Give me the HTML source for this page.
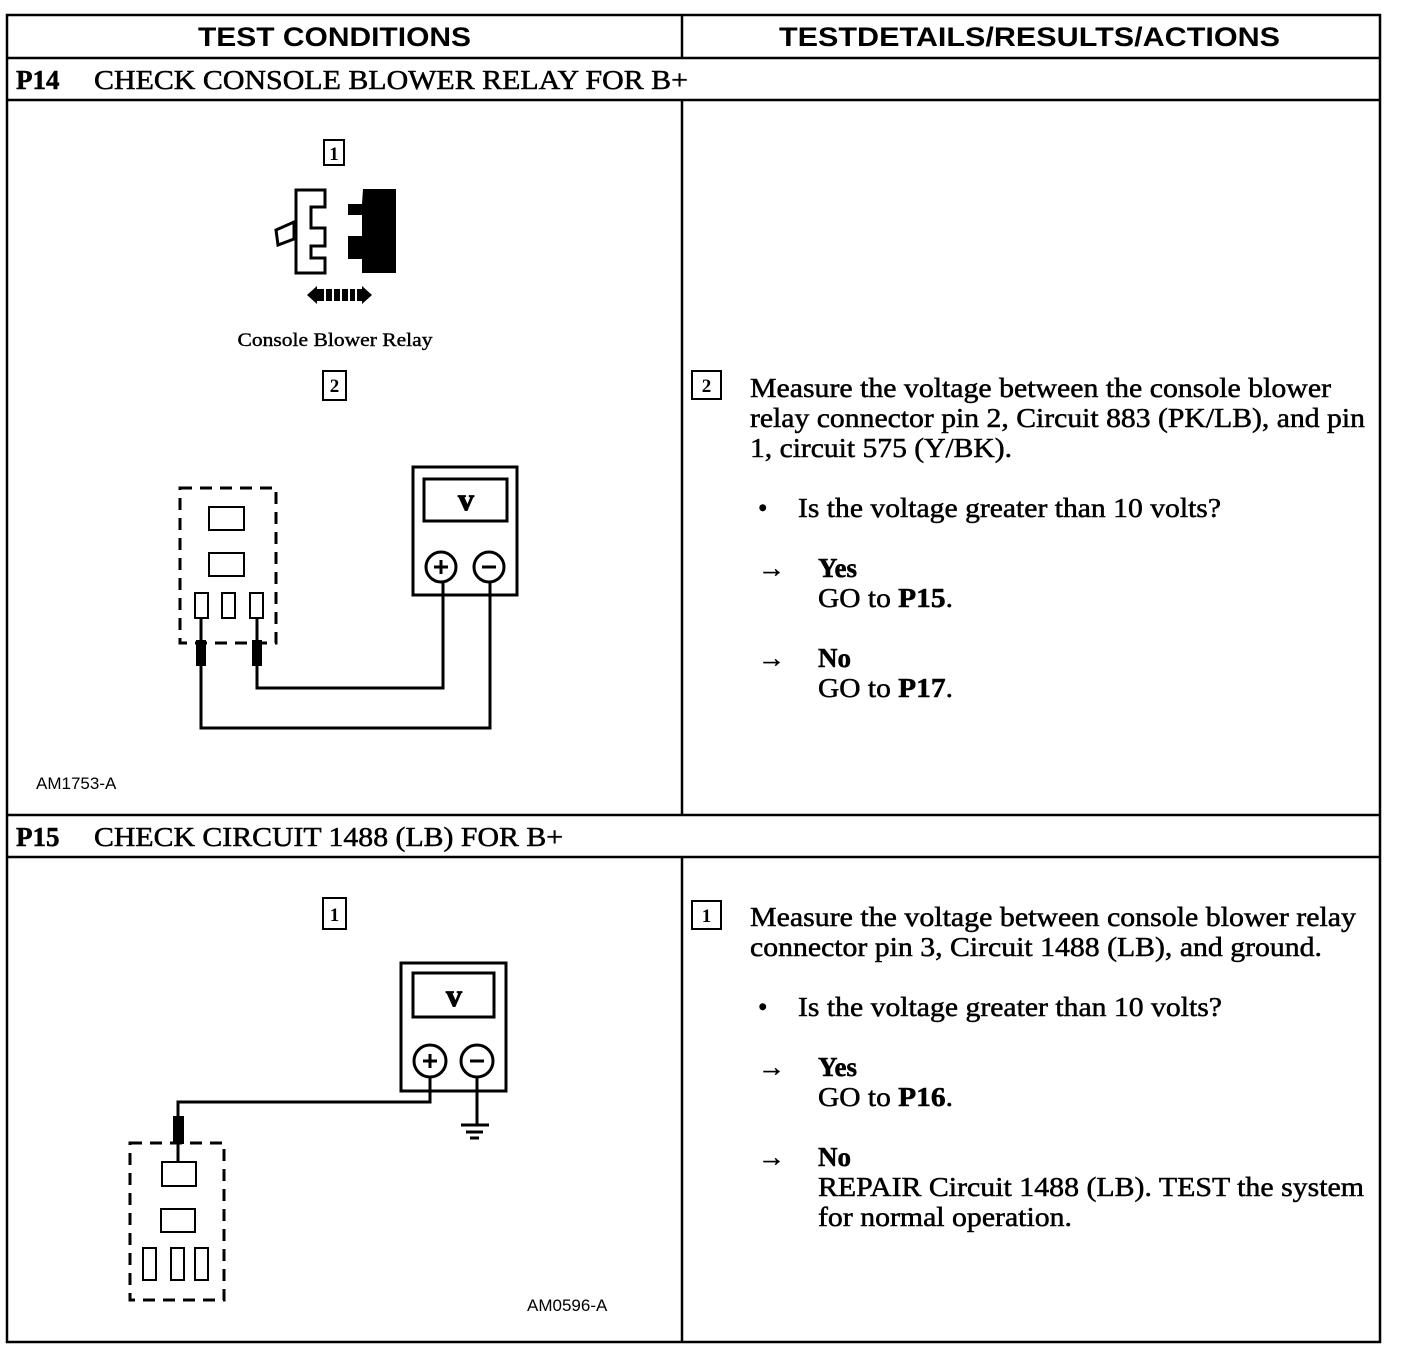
<!DOCTYPE html>
<html><head><meta charset="utf-8"><style>html,body{margin:0;padding:0;background:#fff}svg{display:block}
.s{font-family:"Liberation Serif",serif;font-size:27px;fill:#000;stroke:#000;stroke-width:0.5}
.h{font-family:"Liberation Sans",sans-serif;font-weight:bold;font-size:27px}
.a{font-family:"Liberation Sans",sans-serif;font-size:17px}
.d{font-family:"Liberation Serif",serif;font-size:19px;font-weight:bold}
</style></head><body>
<svg width="1408" height="1364" viewBox="0 0 1408 1364" xmlns="http://www.w3.org/2000/svg">
<g fill="none" stroke="#000" stroke-width="2.5">
<rect x="7" y="15" width="1373" height="1327"/>
<line x1="682" y1="15" x2="682" y2="58"/>
<line x1="682" y1="100" x2="682" y2="815"/>
<line x1="682" y1="857" x2="682" y2="1342"/>
<line x1="7" y1="58" x2="1380" y2="58"/>
<line x1="7" y1="100" x2="1380" y2="100"/>
<line x1="7" y1="815" x2="1380" y2="815"/>
<line x1="7" y1="857" x2="1380" y2="857"/>
</g>
<text class="h" x="198" y="46" textLength="273" lengthAdjust="spacingAndGlyphs">TEST CONDITIONS</text>
<text class="h" x="779" y="46" textLength="501" lengthAdjust="spacingAndGlyphs">TESTDETAILS/RESULTS/ACTIONS</text>
<text class="s" x="16" y="89" font-weight="bold">P14</text>
<text class="s" x="94" y="89" textLength="594" lengthAdjust="spacingAndGlyphs">CHECK CONSOLE BLOWER RELAY FOR B+</text>
<text class="s" x="16" y="846" font-weight="bold">P15</text>
<text class="s" x="94" y="846" textLength="469" lengthAdjust="spacingAndGlyphs">CHECK CIRCUIT 1488 (LB) FOR B+</text>

<g fill="none" stroke="#000" stroke-width="2">
<rect x="324" y="140" width="20" height="25"/>
<rect x="323" y="371" width="23" height="29"/>
<rect x="323" y="898" width="23" height="31"/>
<rect x="692" y="371" width="29" height="28"/>
<rect x="692" y="901" width="29" height="28"/>
</g>
<text class="d" x="334" y="160" text-anchor="middle">1</text>
<text class="d" x="334.5" y="392" text-anchor="middle">2</text>
<text class="d" x="334.5" y="921" text-anchor="middle">1</text>
<text class="d" x="706.5" y="392" text-anchor="middle">2</text>
<text class="d" x="706.5" y="922" text-anchor="middle">1</text>

<path d="M296,190 H325 V207 H311 V228 H325 V246 H311 V258 H325 V273 H296 Z" fill="none" stroke="#000" stroke-width="3"/>
<path d="M276,230 L294,222 V239 L278,245 Z" fill="none" stroke="#000" stroke-width="3"/>
<path d="M363,189 H396 V273 H362 V259 H348 V236 H362 V215 H348 V204 H362 Z" fill="#000"/>
<path d="M307,295 L317,286 V304 Z M372,295 L362,286 V304 Z" fill="#000"/>
<rect x="316" y="289" width="47" height="12" fill="#000"/>
<g stroke="#fff" stroke-width="2"><line x1="325" y1="289" x2="325" y2="301"/><line x1="333" y1="289" x2="333" y2="301"/><line x1="341" y1="289" x2="341" y2="301"/><line x1="349" y1="289" x2="349" y2="301"/><line x1="356" y1="289" x2="356" y2="301"/></g>
<text x="335" y="346" font-family="Liberation Serif,serif" font-size="19" stroke="#000" stroke-width="0.4" text-anchor="middle" textLength="195" lengthAdjust="spacingAndGlyphs">Console Blower Relay</text>

<g fill="none" stroke="#000" stroke-width="3">
<rect x="180" y="488" width="96" height="155" stroke-dasharray="12,8"/>
<rect x="209" y="507" width="35" height="23" stroke-width="2"/>
<rect x="209" y="553" width="35" height="23" stroke-width="2"/>
<rect x="195" y="593" width="13" height="25" stroke-width="2"/>
<rect x="222" y="593" width="13" height="25" stroke-width="2"/>
<rect x="250" y="593" width="13" height="25" stroke-width="2"/>
<rect x="413" y="467" width="104" height="128"/>
<rect x="424" y="479" width="83" height="42"/>
<circle cx="441" cy="567" r="15"/><circle cx="489" cy="567" r="15"/>
<path d="M201,618 V728 H490 V582"/>
<path d="M257,618 V688 H443 V582"/>
</g>
<rect x="196" y="640" width="10" height="26" fill="#000"/>
<rect x="252" y="640" width="10" height="26" fill="#000"/>
<text x="466" y="510" font-family="Liberation Serif,serif" font-weight="bold" font-size="32" stroke="#000" stroke-width="1" text-anchor="middle">v</text>
<path d="M434,567 H448 M441,560 V574" stroke="#000" stroke-width="3"/>
<path d="M482,567 H496" stroke="#000" stroke-width="3"/>
<text class="a" x="36" y="789">AM1753-A</text>

<g fill="none" stroke="#000" stroke-width="3">
<rect x="130" y="1143" width="94" height="157" stroke-dasharray="12,8"/>
<rect x="162" y="1162" width="34" height="24" stroke-width="2"/>
<rect x="161" y="1209" width="34" height="23" stroke-width="2"/>
<rect x="143" y="1248" width="13" height="32" stroke-width="2"/>
<rect x="171" y="1248" width="13" height="32" stroke-width="2"/>
<rect x="195" y="1248" width="13" height="32" stroke-width="2"/>
<rect x="401" y="963" width="105" height="128"/>
<rect x="413" y="973" width="81" height="44"/>
<circle cx="430" cy="1061" r="16"/><circle cx="477" cy="1061" r="16"/>
<path d="M430,1077 V1102 H178 V1162"/>
<path d="M477,1077 V1124 M461,1125 H489 M466,1132 H483 M470,1138 H479"/>
</g>
<rect x="173" y="1116" width="11" height="28" fill="#000"/>
<text x="454" y="1006" font-family="Liberation Serif,serif" font-weight="bold" font-size="32" stroke="#000" stroke-width="1" text-anchor="middle">v</text>
<path d="M423,1061 H437 M430,1054 V1068" stroke="#000" stroke-width="3"/>
<path d="M470,1061 H484" stroke="#000" stroke-width="3"/>
<text class="a" x="527" y="1311">AM0596-A</text>

<text class="s" x="750" y="397" textLength="581" lengthAdjust="spacingAndGlyphs">Measure the voltage between the console blower</text>
<text class="s" x="750" y="427" textLength="615" lengthAdjust="spacingAndGlyphs">relay connector pin 2, Circuit 883 (PK/LB), and pin</text>
<text class="s" x="750" y="457" textLength="262" lengthAdjust="spacingAndGlyphs">1, circuit 575 (Y/BK).</text>
<text class="s" x="758" y="517">•</text>
<text class="s" x="798" y="517" textLength="423" lengthAdjust="spacingAndGlyphs">Is the voltage greater than 10 volts?</text>
<text class="s" x="758" y="577">→</text>
<text class="s" x="818" y="577" font-weight="bold">Yes</text>
<text class="s" x="818" y="607" textLength="135" lengthAdjust="spacingAndGlyphs">GO to <tspan font-weight="bold">P15</tspan>.</text>
<text class="s" x="758" y="667">→</text>
<text class="s" x="818" y="667" font-weight="bold">No</text>
<text class="s" x="818" y="697" textLength="135" lengthAdjust="spacingAndGlyphs">GO to <tspan font-weight="bold">P17</tspan>.</text>

<text class="s" x="750" y="926" textLength="606" lengthAdjust="spacingAndGlyphs">Measure the voltage between console blower relay</text>
<text class="s" x="750" y="956" textLength="572" lengthAdjust="spacingAndGlyphs">connector pin 3, Circuit 1488 (LB), and ground.</text>
<text class="s" x="758" y="1016">•</text>
<text class="s" x="798" y="1016" textLength="424" lengthAdjust="spacingAndGlyphs">Is the voltage greater than 10 volts?</text>
<text class="s" x="758" y="1076">→</text>
<text class="s" x="818" y="1076" font-weight="bold">Yes</text>
<text class="s" x="818" y="1106" textLength="135" lengthAdjust="spacingAndGlyphs">GO to <tspan font-weight="bold">P16</tspan>.</text>
<text class="s" x="758" y="1166">→</text>
<text class="s" x="818" y="1166" font-weight="bold">No</text>
<text class="s" x="818" y="1196" textLength="546" lengthAdjust="spacingAndGlyphs">REPAIR Circuit 1488 (LB). TEST the system</text>
<text class="s" x="818" y="1226" textLength="254" lengthAdjust="spacingAndGlyphs">for normal operation.</text>
</svg>
</body></html>
